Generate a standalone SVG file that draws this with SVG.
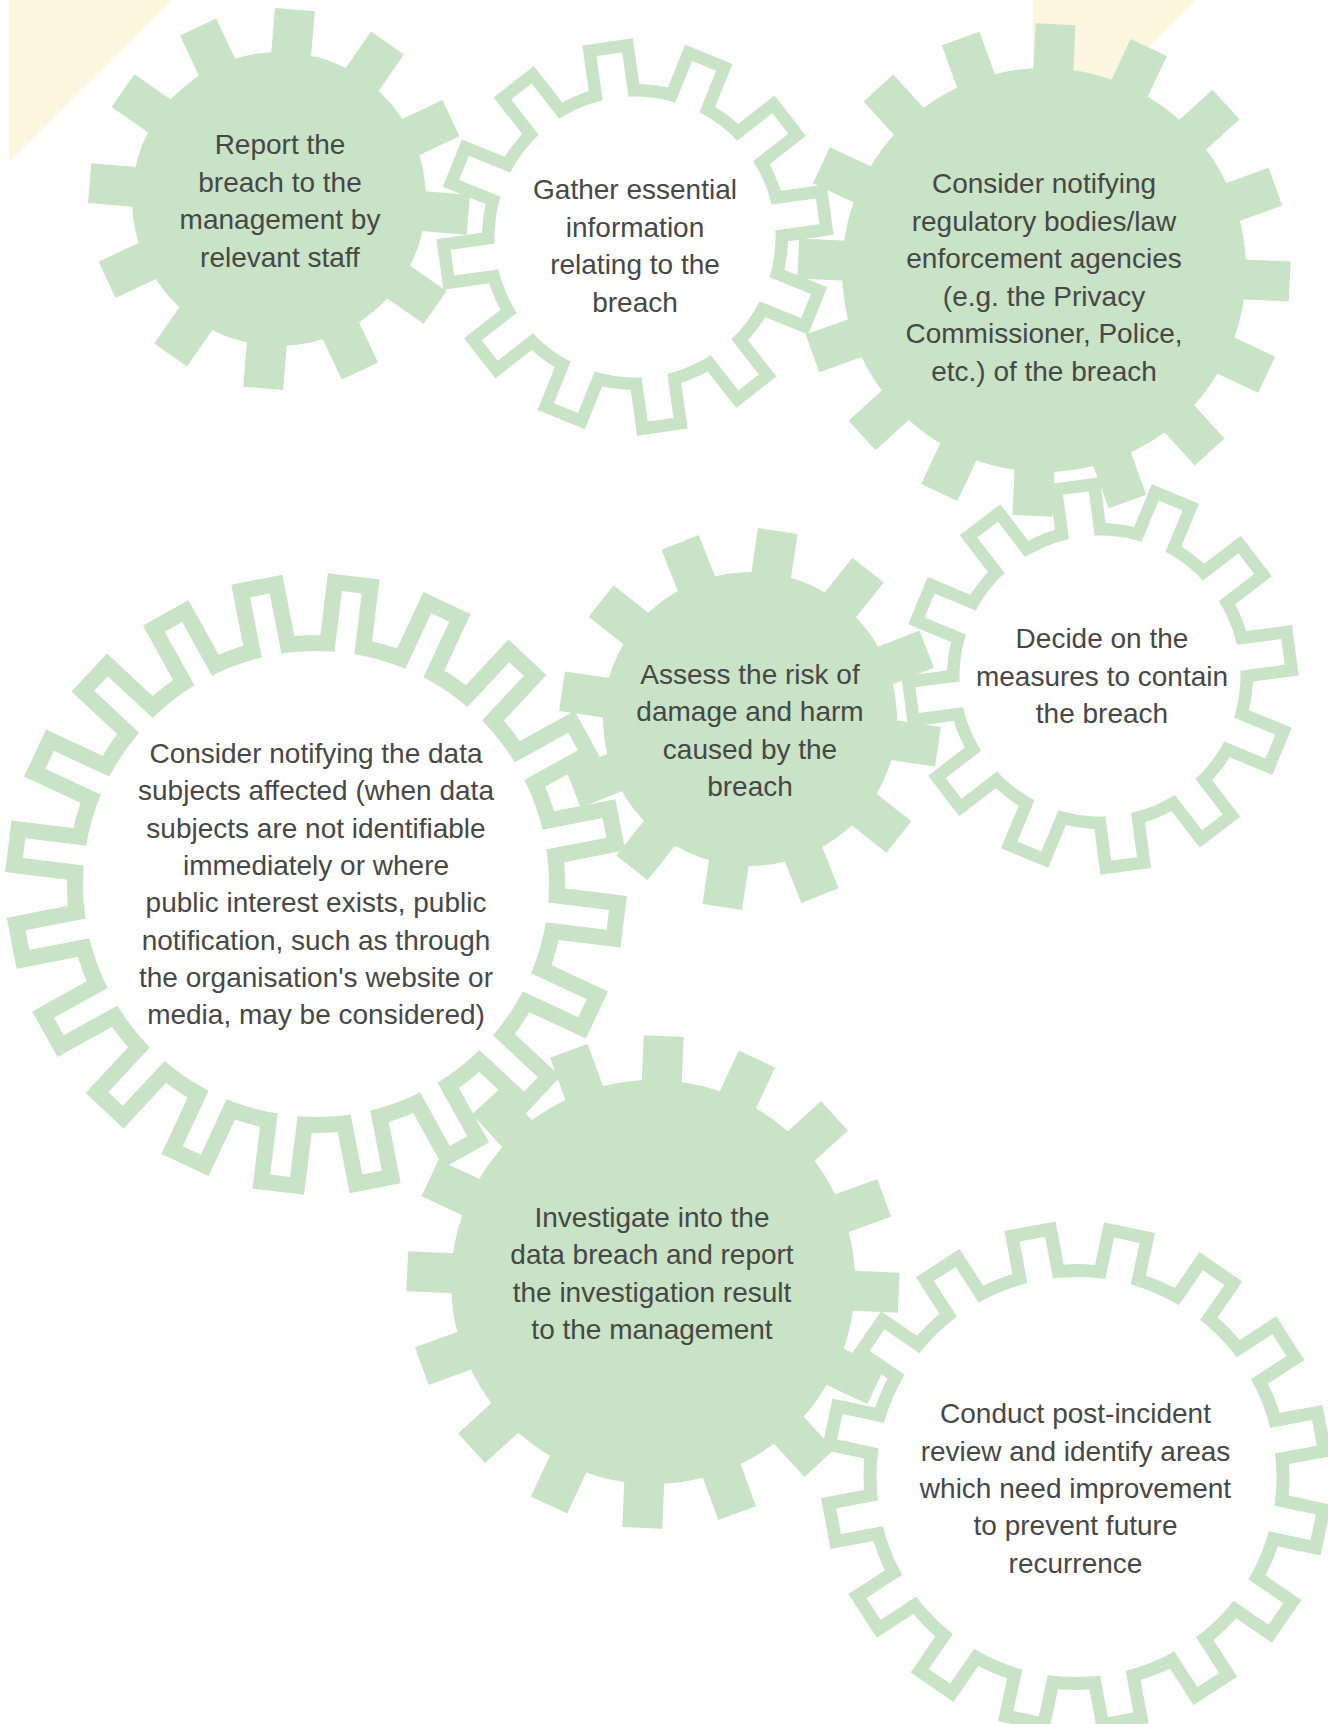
<svg xmlns="http://www.w3.org/2000/svg" width="1328" height="1724" viewBox="0 0 1328 1724">
<style>
.g{fill:#c9e3c6}
.w{fill:#ffffff}
.bg{fill:#fdf6df}
text{font-family:"Liberation Sans",Arial,Helvetica,sans-serif;font-size:28px;fill:#474747;text-anchor:middle}
</style>
<defs>
<g id="gearA"><circle r="147"/><rect id="barA" x="-20" y="-190" width="40" height="380"/><use href="#barA" transform="rotate(30)"/><use href="#barA" transform="rotate(60)"/><use href="#barA" transform="rotate(90)"/><use href="#barA" transform="rotate(120)"/><use href="#barA" transform="rotate(150)"/></g>
<g id="gearB"><circle r="202"/><rect id="barB" x="-20" y="-246" width="40" height="492"/><use href="#barB" transform="rotate(22.5)"/><use href="#barB" transform="rotate(45)"/><use href="#barB" transform="rotate(67.5)"/><use href="#barB" transform="rotate(90)"/><use href="#barB" transform="rotate(112.5)"/><use href="#barB" transform="rotate(135)"/><use href="#barB" transform="rotate(157.5)"/></g>
<g id="gearC"><circle r="153"/><rect id="barC" x="-25.5" y="-197" width="51" height="394"/><use href="#barC" transform="rotate(30)"/><use href="#barC" transform="rotate(60)"/><use href="#barC" transform="rotate(90)"/><use href="#barC" transform="rotate(120)"/><use href="#barC" transform="rotate(150)"/></g>
<g id="gearCi"><circle r="140.5"/><rect id="barCi" x="-13" y="-184.5" width="26" height="369"/><use href="#barCi" transform="rotate(30)"/><use href="#barCi" transform="rotate(60)"/><use href="#barCi" transform="rotate(90)"/><use href="#barCi" transform="rotate(120)"/><use href="#barCi" transform="rotate(150)"/></g>
<g id="gearD"><circle r="213"/><rect id="barD" x="-26" y="-255" width="52" height="510"/><use href="#barD" transform="rotate(22.5)"/><use href="#barD" transform="rotate(45)"/><use href="#barD" transform="rotate(67.5)"/><use href="#barD" transform="rotate(90)"/><use href="#barD" transform="rotate(112.5)"/><use href="#barD" transform="rotate(135)"/><use href="#barD" transform="rotate(157.5)"/></g>
<g id="gearDi"><circle r="200"/><rect id="barDi" x="-13" y="-242" width="26" height="484"/><use href="#barDi" transform="rotate(22.5)"/><use href="#barDi" transform="rotate(45)"/><use href="#barDi" transform="rotate(67.5)"/><use href="#barDi" transform="rotate(90)"/><use href="#barDi" transform="rotate(112.5)"/><use href="#barDi" transform="rotate(135)"/><use href="#barDi" transform="rotate(157.5)"/></g>
<g id="gearE"><circle r="249"/><rect id="barE" x="-26" y="-310" width="52" height="620"/><use href="#barE" transform="rotate(18)"/><use href="#barE" transform="rotate(36)"/><use href="#barE" transform="rotate(54)"/><use href="#barE" transform="rotate(72)"/><use href="#barE" transform="rotate(90)"/><use href="#barE" transform="rotate(108)"/><use href="#barE" transform="rotate(126)"/><use href="#barE" transform="rotate(144)"/><use href="#barE" transform="rotate(162)"/></g>
<g id="gearEi"><circle r="233"/><rect id="barEi" x="-10" y="-294" width="20" height="588"/><use href="#barEi" transform="rotate(18)"/><use href="#barEi" transform="rotate(36)"/><use href="#barEi" transform="rotate(54)"/><use href="#barEi" transform="rotate(72)"/><use href="#barEi" transform="rotate(90)"/><use href="#barEi" transform="rotate(108)"/><use href="#barEi" transform="rotate(126)"/><use href="#barEi" transform="rotate(144)"/><use href="#barEi" transform="rotate(162)"/></g>
</defs>
<rect width="1328" height="1724" fill="#ffffff"/>
<g id="background">
<polygon class="bg" points="9,0 172,0 9,162"/>
<polygon class="bg" points="1033,0 1196,0 1033,163"/>
</g>
<g id="connectors"></g>
<g id="node-report">
<use href="#gearA" class="g" transform="translate(279,199) rotate(4.8)"/>
<text><tspan x="280" y="154">Report the</tspan><tspan x="280" y="191.5">breach to the</tspan><tspan x="280" y="229">management by</tspan><tspan x="280" y="266.5">relevant staff</tspan></text>
</g>
<g id="node-regulatory">
<use href="#gearB" class="g" transform="translate(1044,270) rotate(2.7)"/>
<text><tspan x="1044" y="193">Consider notifying</tspan><tspan x="1044" y="230.5">regulatory bodies/law</tspan><tspan x="1044" y="268">enforcement agencies</tspan><tspan x="1044" y="305.5">(e.g. the Privacy</tspan><tspan x="1044" y="343">Commissioner, Police,</tspan><tspan x="1044" y="380.5">etc.) of the breach</tspan></text>
</g>
<g id="node-assess">
<use href="#gearA" class="g" transform="translate(750,719) rotate(8.4)"/>
<text><tspan x="750" y="683.5">Assess the risk of</tspan><tspan x="750" y="721">damage and harm</tspan><tspan x="750" y="758.5">caused by the</tspan><tspan x="750" y="796">breach</tspan></text>
</g>
<g id="node-investigate">
<use href="#gearB" class="g" transform="translate(653,1282) rotate(2.5)"/>
<text><tspan x="652" y="1226.5">Investigate into the</tspan><tspan x="652" y="1264">data breach and report</tspan><tspan x="652" y="1301.5">the investigation result</tspan><tspan x="652" y="1339">to the management</tspan></text>
</g>
<g id="node-gather">
<use href="#gearC" class="g" transform="translate(635,237) rotate(-8)"/>
<use href="#gearCi" class="w" transform="translate(635,237) rotate(-8)"/>
<text><tspan x="635" y="199">Gather essential</tspan><tspan x="635" y="236.5">information</tspan><tspan x="635" y="274">relating to the</tspan><tspan x="635" y="311.5">breach</tspan></text>
</g>
<g id="node-data-subjects">
<use href="#gearE" class="g" transform="translate(316,884) rotate(7)"/>
<use href="#gearEi" class="w" transform="translate(316,884) rotate(7)"/>
<text><tspan x="316" y="763">Consider notifying the data</tspan><tspan x="316" y="800.3">subjects affected (when data</tspan><tspan x="316" y="837.6">subjects are not identifiable</tspan><tspan x="316" y="874.9">immediately or where</tspan><tspan x="316" y="912.2">public interest exists, public</tspan><tspan x="316" y="949.5">notification, such as through</tspan><tspan x="316" y="986.8">the organisation's website or</tspan><tspan x="316" y="1024">media, may be considered)</tspan></text>
</g>
<g id="node-contain">
<use href="#gearC" class="g" transform="translate(1100,676) rotate(-7.5)"/>
<use href="#gearCi" class="w" transform="translate(1100,676) rotate(-7.5)"/>
<text><tspan x="1102" y="648.3">Decide on the</tspan><tspan x="1102" y="685.8">measures to contain</tspan><tspan x="1102" y="723.3">the breach</tspan></text>
</g>
<g id="node-review">
<use href="#gearD" class="g" transform="translate(1076.5,1477) rotate(12)"/>
<use href="#gearDi" class="w" transform="translate(1076.5,1477) rotate(12)"/>
<text><tspan x="1075.5" y="1423.3">Conduct post-incident</tspan><tspan x="1075.5" y="1460.6">review and identify areas</tspan><tspan x="1075.5" y="1497.9">which need improvement</tspan><tspan x="1075.5" y="1535.2">to prevent future</tspan><tspan x="1075.5" y="1572.5">recurrence</tspan></text>
</g>
</svg>
